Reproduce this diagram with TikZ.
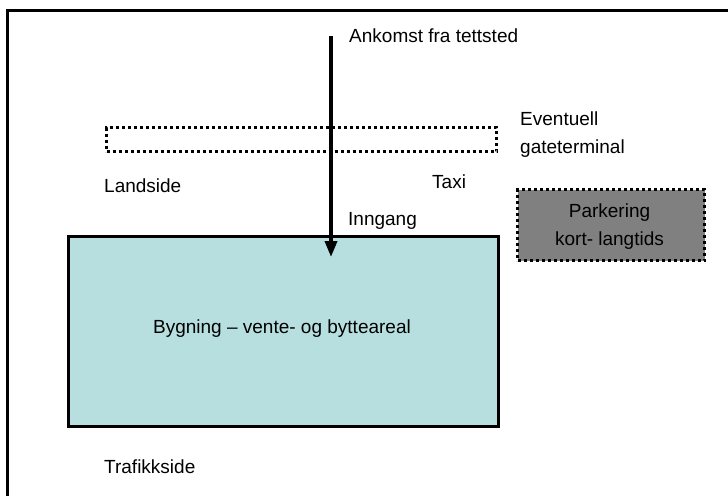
\documentclass[tikz,border=0pt]{standalone}
\usepackage{fontspec}
\setmainfont{Liberation Sans}
\usetikzlibrary{arrows.meta}
\definecolor{bygfill}{RGB}{183,223,224}
\definecolor{parkfill}{RGB}{128,128,128}
\tikzset{
  lbl/.style={anchor=base west, inner sep=0pt, font=\fontsize{19}{28}\selectfont},
  dotbox/.style={draw=black, line width=3pt, dash pattern=on 3pt off 3pt},
  solidbox/.style={draw=black, line width=3pt},
}
\begin{document}
\begin{tikzpicture}[x=1pt,y=-1pt]
\useasboundingbox (0,0) rectangle (728,496);
% outer frame (open on right and bottom)
\draw[line width=3pt] (7,496) -- (7,10.5) -- (728,10.5);
% eventual gate terminal (dotted)
\node[dotbox, minimum width=390pt, minimum height=24pt, anchor=north west, inner sep=0pt] (gate) at (105,126) {};
% building
\node[solidbox, fill=bygfill, minimum width=430pt, minimum height=190pt, anchor=north west, inner sep=0pt] (bygg) at (67,235) {};
\node[font=\fontsize{19}{24}\selectfont, inner sep=0pt, anchor=base] (byggtxt) at (282,333) {Bygning – vente- og bytteareal};
% parking
\node[dotbox, fill=parkfill, minimum width=187pt, minimum height=71pt, anchor=north west, inner sep=0pt] (park) at (516,188) {};
\node[font=\fontsize{19}{28}\selectfont, inner sep=0pt, anchor=base] (parktxt1) at (609.5,217) {Parkering};
\node[font=\fontsize{19}{28}\selectfont, inner sep=0pt, anchor=base] (parktxt2) at (609.5,245) {kort- langtids};
% labels
\node[lbl] (ankomst) at (349,42) {Ankomst fra tettsted};
\node[lbl] (event) at (520,125) {Eventuell};
\node[lbl] (gateterm) at (520,153) {gateterminal};
\node[lbl] (landside) at (104,192) {Landside};
\node[lbl] (taxi) at (432,188) {Taxi};
\node[lbl] (inngang) at (348,225) {Inngang};
\node[lbl] (trafikk) at (104,473) {Trafikkside};
% arrow
\coordinate (arrstart) at (331,36);
\coordinate (arrend) at (331,257);
\draw[line width=3.6pt, -{Triangle[length=16pt,width=12pt]}] (arrstart) -- (arrend);
\end{tikzpicture}
\end{document}
